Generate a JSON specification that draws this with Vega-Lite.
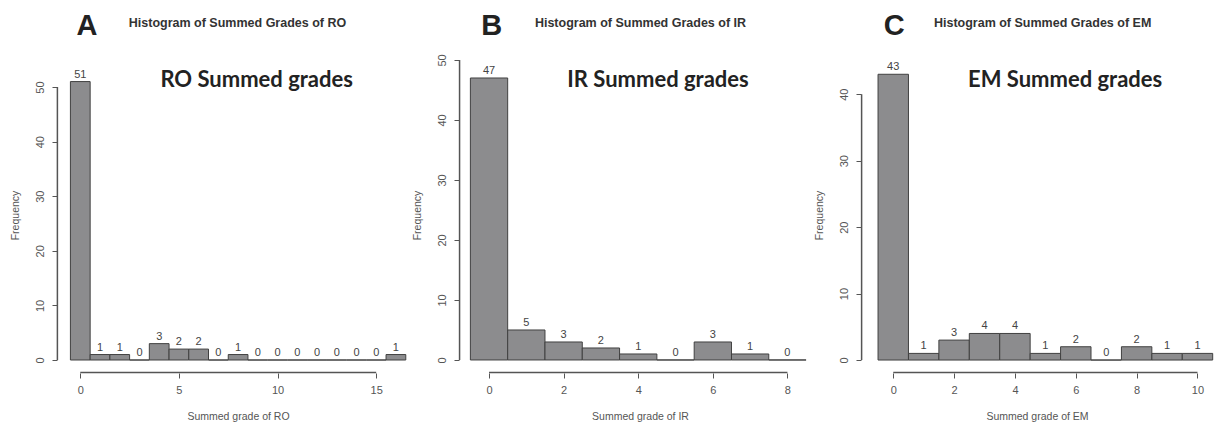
{
  "$schema": "https://vega.github.io/schema/vega-lite/v6.json",
  "background": "white",
  "padding": {"left": 10, "top": 11, "right": 0, "bottom": 0},
  "spacing": 40,
  "bounds": "flush",
  "config": {
    "view": {"stroke": null},
    "axis": {"domain": false, "grid": false, "ticks": true, "tickSize": 5, "tickColor": "#555", "tickWidth": 1, "labelFont": "Liberation Sans", "labelFontSize": 11, "labelColor": "#555", "titleFont": "Liberation Sans", "titleFontSize": 10.5, "titleFontWeight": "normal", "titleColor": "#555", "labelOverlap": false},
    "axisY": {"labelAngle": -90, "labelAlign": "center", "labelBaseline": "bottom", "labelPadding": 7, "titlePadding": 14},
    "axisX": {"labelPadding": 6, "titlePadding": 16},
    "text": {"font": "Liberation Sans"}
  },
  "datasets": {
    "hist": [
      {"panel": "RO", "grade": 0, "bin_start": -0.5, "bin_end": 0.5, "count": 51},
      {"panel": "RO", "grade": 1, "bin_start": 0.5, "bin_end": 1.5, "count": 1},
      {"panel": "RO", "grade": 2, "bin_start": 1.5, "bin_end": 2.5, "count": 1},
      {"panel": "RO", "grade": 3, "bin_start": 2.5, "bin_end": 3.5, "count": 0},
      {"panel": "RO", "grade": 4, "bin_start": 3.5, "bin_end": 4.5, "count": 3},
      {"panel": "RO", "grade": 5, "bin_start": 4.5, "bin_end": 5.5, "count": 2},
      {"panel": "RO", "grade": 6, "bin_start": 5.5, "bin_end": 6.5, "count": 2},
      {"panel": "RO", "grade": 7, "bin_start": 6.5, "bin_end": 7.5, "count": 0},
      {"panel": "RO", "grade": 8, "bin_start": 7.5, "bin_end": 8.5, "count": 1},
      {"panel": "RO", "grade": 9, "bin_start": 8.5, "bin_end": 9.5, "count": 0},
      {"panel": "RO", "grade": 10, "bin_start": 9.5, "bin_end": 10.5, "count": 0},
      {"panel": "RO", "grade": 11, "bin_start": 10.5, "bin_end": 11.5, "count": 0},
      {"panel": "RO", "grade": 12, "bin_start": 11.5, "bin_end": 12.5, "count": 0},
      {"panel": "RO", "grade": 13, "bin_start": 12.5, "bin_end": 13.5, "count": 0},
      {"panel": "RO", "grade": 14, "bin_start": 13.5, "bin_end": 14.5, "count": 0},
      {"panel": "RO", "grade": 15, "bin_start": 14.5, "bin_end": 15.5, "count": 0},
      {"panel": "RO", "grade": 16, "bin_start": 15.5, "bin_end": 16.5, "count": 1},
      {"panel": "IR", "grade": 0, "bin_start": -0.5, "bin_end": 0.5, "count": 47},
      {"panel": "IR", "grade": 1, "bin_start": 0.5, "bin_end": 1.5, "count": 5},
      {"panel": "IR", "grade": 2, "bin_start": 1.5, "bin_end": 2.5, "count": 3},
      {"panel": "IR", "grade": 3, "bin_start": 2.5, "bin_end": 3.5, "count": 2},
      {"panel": "IR", "grade": 4, "bin_start": 3.5, "bin_end": 4.5, "count": 1},
      {"panel": "IR", "grade": 5, "bin_start": 4.5, "bin_end": 5.5, "count": 0},
      {"panel": "IR", "grade": 6, "bin_start": 5.5, "bin_end": 6.5, "count": 3},
      {"panel": "IR", "grade": 7, "bin_start": 6.5, "bin_end": 7.5, "count": 1},
      {"panel": "IR", "grade": 8, "bin_start": 7.5, "bin_end": 8.5, "count": 0},
      {"panel": "EM", "grade": 0, "bin_start": -0.5, "bin_end": 0.5, "count": 43},
      {"panel": "EM", "grade": 1, "bin_start": 0.5, "bin_end": 1.5, "count": 1},
      {"panel": "EM", "grade": 2, "bin_start": 1.5, "bin_end": 2.5, "count": 3},
      {"panel": "EM", "grade": 3, "bin_start": 2.5, "bin_end": 3.5, "count": 4},
      {"panel": "EM", "grade": 4, "bin_start": 3.5, "bin_end": 4.5, "count": 4},
      {"panel": "EM", "grade": 5, "bin_start": 4.5, "bin_end": 5.5, "count": 1},
      {"panel": "EM", "grade": 6, "bin_start": 5.5, "bin_end": 6.5, "count": 2},
      {"panel": "EM", "grade": 7, "bin_start": 6.5, "bin_end": 7.5, "count": 0},
      {"panel": "EM", "grade": 8, "bin_start": 7.5, "bin_end": 8.5, "count": 2},
      {"panel": "EM", "grade": 9, "bin_start": 8.5, "bin_end": 9.5, "count": 1},
      {"panel": "EM", "grade": 10, "bin_start": 9.5, "bin_end": 10.5, "count": 1}
    ]
  },
  "hconcat": [
    {
      "width": 362, "height": 316,
      "data": {"name": "hist"},
      "transform": [{"filter": "datum.panel === 'RO'"}],
      "layer": [
        {"mark": {"type": "rect", "fill": "#8c8c8e", "stroke": "#404040", "strokeWidth": 1},
         "encoding": {
           "x": {"field": "bin_start", "type": "quantitative", "scale": {"domain": [-1.18, 17.17], "nice": false, "zero": false}, "axis": {"values": [0, 5, 10, 15], "title": "Summed grade of RO"}},
           "x2": {"field": "bin_end"},
           "y": {"field": "count", "type": "quantitative", "scale": {"domain": [-2.38, 55.5], "nice": false, "zero": false}, "axis": {"values": [0, 10, 20, 30, 40, 50], "title": "Frequency"}},
           "y2": {"datum": 0}}},
        {"mark": {"type": "text", "fontSize": 11, "color": "#444", "baseline": "alphabetic", "dy": -4},
         "encoding": {
           "x": {"field": "grade", "type": "quantitative", "scale": {"domain": [-1.18, 17.17], "nice": false, "zero": false}, "title": "Summed grade of RO"},
           "y": {"field": "count", "type": "quantitative", "scale": {"domain": [-2.38, 55.5], "nice": false, "zero": false}, "title": "Frequency"},
           "text": {"field": "count", "type": "quantitative"}}},
        {"data": {"values": [{}]}, "mark": {"type": "rule", "color": "#555", "strokeWidth": 1.5},
         "encoding": {
           "x": {"datum": -1.16, "type": "quantitative", "scale": {"domain": [-1.18, 17.17], "nice": false, "zero": false}},
           "y": {"datum": 0, "type": "quantitative", "scale": {"domain": [-2.38, 55.5], "nice": false, "zero": false}},
           "y2": {"datum": 50}}},
        {"data": {"values": [{}]}, "mark": {"type": "rule", "color": "#555", "strokeWidth": 1.5},
         "encoding": {
           "x": {"datum": 0, "type": "quantitative", "scale": {"domain": [-1.18, 17.17], "nice": false, "zero": false}},
           "x2": {"datum": 15},
           "y": {"datum": -2.3, "type": "quantitative", "scale": {"domain": [-2.38, 55.5], "nice": false, "zero": false}}}},
        {"data": {"values": [{}]}, "mark": {"type": "text", "fontSize": 29, "fontWeight": "bold", "color": "#222", "baseline": "middle", "align": "center"},
         "encoding": {
           "x": {"datum": 0.34, "type": "quantitative", "scale": {"domain": [-1.18, 17.17], "nice": false, "zero": false}},
           "y": {"datum": 61.2, "type": "quantitative", "scale": {"domain": [-2.38, 55.5], "nice": false, "zero": false}},
           "text": {"value": "A"}}},
        {"data": {"values": [{}]}, "mark": {"type": "text", "fontSize": 12.5, "fontWeight": "bold", "color": "#333", "baseline": "middle", "align": "center"},
         "encoding": {
           "x": {"datum": 7.97, "type": "quantitative", "scale": {"domain": [-1.18, 17.17], "nice": false, "zero": false}},
           "y": {"datum": 61.7, "type": "quantitative", "scale": {"domain": [-2.38, 55.5], "nice": false, "zero": false}},
           "text": {"value": "Histogram of Summed Grades of RO"}}},
        {"data": {"values": [{}]}, "mark": {"type": "text", "font": "Lato", "fontSize": 22, "fontWeight": "bold", "color": "#222", "baseline": "middle", "align": "center"},
         "encoding": {
           "x": {"datum": 8.94, "type": "quantitative", "scale": {"domain": [-1.18, 17.17], "nice": false, "zero": false}},
           "y": {"datum": 51.3, "type": "quantitative", "scale": {"domain": [-2.38, 55.5], "nice": false, "zero": false}},
           "text": {"value": "RO Summed grades"}}}
      ]
    },
    {
      "width": 362, "height": 316,
      "data": {"name": "hist"},
      "transform": [{"filter": "datum.panel === 'IR'"}],
      "layer": [
        {"mark": {"type": "rect", "fill": "#8c8c8e", "stroke": "#404040", "strokeWidth": 1},
         "encoding": {
           "x": {"field": "bin_start", "type": "quantitative", "scale": {"domain": [-0.805, 8.9], "nice": false, "zero": false}, "axis": {"values": [0, 2, 4, 6, 8], "title": "Summed grade of IR"}},
           "x2": {"field": "bin_end"},
           "y": {"field": "count", "type": "quantitative", "scale": {"domain": [-2.17, 50.5], "nice": false, "zero": false}, "axis": {"values": [0, 10, 20, 30, 40, 50], "title": "Frequency"}},
           "y2": {"datum": 0}}},
        {"mark": {"type": "text", "fontSize": 11, "color": "#444", "baseline": "alphabetic", "dy": -4},
         "encoding": {
           "x": {"field": "grade", "type": "quantitative", "scale": {"domain": [-0.805, 8.9], "nice": false, "zero": false}, "title": "Summed grade of IR"},
           "y": {"field": "count", "type": "quantitative", "scale": {"domain": [-2.17, 50.5], "nice": false, "zero": false}, "title": "Frequency"},
           "text": {"field": "count", "type": "quantitative"}}},
        {"data": {"values": [{}]}, "mark": {"type": "rule", "color": "#555", "strokeWidth": 1.5},
         "encoding": {
           "x": {"datum": -0.79, "type": "quantitative", "scale": {"domain": [-0.805, 8.9], "nice": false, "zero": false}},
           "y": {"datum": 0, "type": "quantitative", "scale": {"domain": [-2.17, 50.5], "nice": false, "zero": false}},
           "y2": {"datum": 50}}},
        {"data": {"values": [{}]}, "mark": {"type": "rule", "color": "#555", "strokeWidth": 1.5},
         "encoding": {
           "x": {"datum": 0, "type": "quantitative", "scale": {"domain": [-0.805, 8.9], "nice": false, "zero": false}},
           "x2": {"datum": 8},
           "y": {"datum": -2.1, "type": "quantitative", "scale": {"domain": [-2.17, 50.5], "nice": false, "zero": false}}}},
        {"data": {"values": [{}]}, "mark": {"type": "text", "fontSize": 29, "fontWeight": "bold", "color": "#222", "baseline": "middle", "align": "center"},
         "encoding": {
           "x": {"datum": 0.07, "type": "quantitative", "scale": {"domain": [-0.805, 8.9], "nice": false, "zero": false}},
           "y": {"datum": 55.7, "type": "quantitative", "scale": {"domain": [-2.17, 50.5], "nice": false, "zero": false}},
           "text": {"value": "B"}}},
        {"data": {"values": [{}]}, "mark": {"type": "text", "fontSize": 12.5, "fontWeight": "bold", "color": "#333", "baseline": "middle", "align": "center"},
         "encoding": {
           "x": {"datum": 4.06, "type": "quantitative", "scale": {"domain": [-0.805, 8.9], "nice": false, "zero": false}},
           "y": {"datum": 56.2, "type": "quantitative", "scale": {"domain": [-2.17, 50.5], "nice": false, "zero": false}},
           "text": {"value": "Histogram of Summed Grades of IR"}}},
        {"data": {"values": [{}]}, "mark": {"type": "text", "font": "Lato", "fontSize": 22, "fontWeight": "bold", "color": "#222", "baseline": "middle", "align": "center"},
         "encoding": {
           "x": {"datum": 4.53, "type": "quantitative", "scale": {"domain": [-0.805, 8.9], "nice": false, "zero": false}},
           "y": {"datum": 46.7, "type": "quantitative", "scale": {"domain": [-2.17, 50.5], "nice": false, "zero": false}},
           "text": {"value": "IR Summed grades"}}}
      ]
    },
    {
      "width": 352, "height": 316,
      "data": {"name": "hist"},
      "transform": [{"filter": "datum.panel === 'EM'"}],
      "layer": [
        {"mark": {"type": "rect", "fill": "#8c8c8e", "stroke": "#404040", "strokeWidth": 1},
         "encoding": {
           "x": {"field": "bin_start", "type": "quantitative", "scale": {"domain": [-1.06, 10.51], "nice": false, "zero": false}, "axis": {"values": [0, 2, 4, 6, 8, 10], "title": "Summed grade of EM"}},
           "x2": {"field": "bin_end"},
           "y": {"field": "count", "type": "quantitative", "scale": {"domain": [-1.95, 45.6], "nice": false, "zero": false}, "axis": {"values": [0, 10, 20, 30, 40], "title": "Frequency"}},
           "y2": {"datum": 0}}},
        {"mark": {"type": "text", "fontSize": 11, "color": "#444", "baseline": "alphabetic", "dy": -4},
         "encoding": {
           "x": {"field": "grade", "type": "quantitative", "scale": {"domain": [-1.06, 10.51], "nice": false, "zero": false}, "title": "Summed grade of EM"},
           "y": {"field": "count", "type": "quantitative", "scale": {"domain": [-1.95, 45.6], "nice": false, "zero": false}, "title": "Frequency"},
           "text": {"field": "count", "type": "quantitative"}}},
        {"data": {"values": [{}]}, "mark": {"type": "rule", "color": "#555", "strokeWidth": 1.5},
         "encoding": {
           "x": {"datum": -1.04, "type": "quantitative", "scale": {"domain": [-1.06, 10.51], "nice": false, "zero": false}},
           "y": {"datum": 0, "type": "quantitative", "scale": {"domain": [-1.95, 45.6], "nice": false, "zero": false}},
           "y2": {"datum": 40}}},
        {"data": {"values": [{}]}, "mark": {"type": "rule", "color": "#555", "strokeWidth": 1.5},
         "encoding": {
           "x": {"datum": 0, "type": "quantitative", "scale": {"domain": [-1.06, 10.51], "nice": false, "zero": false}},
           "x2": {"datum": 10},
           "y": {"datum": -1.88, "type": "quantitative", "scale": {"domain": [-1.95, 45.6], "nice": false, "zero": false}}}},
        {"data": {"values": [{}]}, "mark": {"type": "text", "fontSize": 29, "fontWeight": "bold", "color": "#222", "baseline": "middle", "align": "center"},
         "encoding": {
           "x": {"datum": 0.03, "type": "quantitative", "scale": {"domain": [-1.06, 10.51], "nice": false, "zero": false}},
           "y": {"datum": 50.2, "type": "quantitative", "scale": {"domain": [-1.95, 45.6], "nice": false, "zero": false}},
           "text": {"value": "C"}}},
        {"data": {"values": [{}]}, "mark": {"type": "text", "fontSize": 12.5, "fontWeight": "bold", "color": "#333", "baseline": "middle", "align": "center"},
         "encoding": {
           "x": {"datum": 4.91, "type": "quantitative", "scale": {"domain": [-1.06, 10.51], "nice": false, "zero": false}},
           "y": {"datum": 50.7, "type": "quantitative", "scale": {"domain": [-1.95, 45.6], "nice": false, "zero": false}},
           "text": {"value": "Histogram of Summed Grades of EM"}}},
        {"data": {"values": [{}]}, "mark": {"type": "text", "font": "Lato", "fontSize": 22, "fontWeight": "bold", "color": "#222", "baseline": "middle", "align": "center"},
         "encoding": {
           "x": {"datum": 5.65, "type": "quantitative", "scale": {"domain": [-1.06, 10.51], "nice": false, "zero": false}},
           "y": {"datum": 42.1, "type": "quantitative", "scale": {"domain": [-1.95, 45.6], "nice": false, "zero": false}},
           "text": {"value": "EM Summed grades"}}}
      ]
    }
  ]
}
